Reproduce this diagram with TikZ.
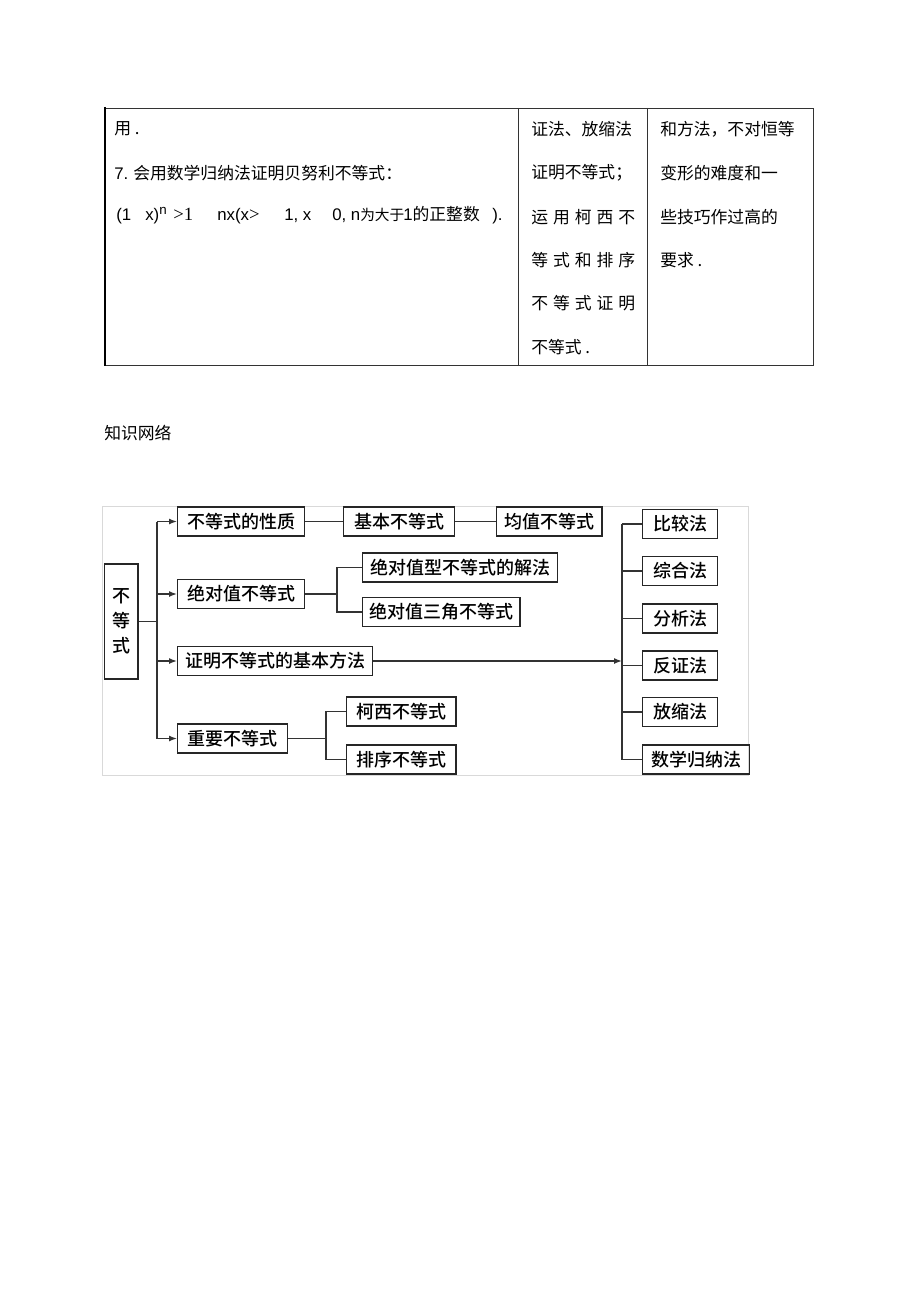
\documentclass[tikz,border=0pt]{standalone}
\usepackage{fontspec}
\setmainfont{Noto Sans CJK SC}
\newfontfamily\med{Noto Sans CJK SC Medium}
\newfontfamily\lat{Liberation Sans}
\newfontfamily\rom{Liberation Serif}
\usetikzlibrary{arrows.meta}

\tikzset{
  kbox/.style={draw=black!85, line width=1.1pt, anchor=west, minimum height=21.75pt,
    inner xsep=2pt, inner ysep=0pt, font=\fontsize{13.5}{14}\selectfont\med},
  link/.style={black!80, line width=1.1pt},
  tip/.style={-{Latex[length=6pt,width=4.5pt]}},
  tline/.style={black!80, line width=0.6pt},
  cell/.style={anchor=west, inner sep=0pt, font=\fontsize{12.6}{14}\selectfont},
  frm/.style={anchor=base west, inner sep=0pt, font=\fontsize{12.6}{14}\selectfont},
}

\begin{document}
\begin{tikzpicture}[x=0.75pt,y=-0.75pt]
\useasboundingbox (0,0) rectangle (920,1308);

% table
\draw[tline] (105,108) -- (813,108) -- (813,365) -- (105,365);
\draw[line width=2pt] (105,107) -- (105,366);
\draw[tline] (518,108) -- (518,365);
\draw[tline] (647,108) -- (647,365);

\node[cell] (use) at (114,129) {用\ .};
\node[cell] (item7) at (114,173) {{\lat 7.} 会用数学归纳法证明贝努利不等式：};
\node[frm] (fa) at (116,221) {\lat (1};
\node[frm] (fb) at (145,221) {\lat x)\raisebox{5pt}{\fontsize{10}{10}\selectfont n}};
\node[frm] (fc) at (173,221) {\fontsize{14}{14}\selectfont\rom >1};
\node[frm] (fd) at (217,221) {{\lat nx(x}{\fontsize{14}{14}\selectfont\rom >}};
\node[frm] (fe) at (284,221) {\lat 1, x};
\node[frm] (ff) at (332,221) {{\lat 0, n}{\fontsize{11}{14}\selectfont 为大于}};
\node[frm] (fg) at (403,221) {{\lat 1}的正整数};
\node[frm] (fh) at (492,221) {\lat ).};

\node[cell] (m1) at (531,129) {证法、放缩法};
\node[cell] (m2) at (531,173) {证明不等式；};
\node[cell] (m3) at (531,217) {\makebox[78pt][s]{运\hfill 用\hfill 柯\hfill 西\hfill 不}};
\node[cell] (m4) at (531,260) {\makebox[78pt][s]{等\hfill 式\hfill 和\hfill 排\hfill 序}};
\node[cell] (m5) at (531,303) {\makebox[78pt][s]{不\hfill 等\hfill 式\hfill 证\hfill 明}};
\node[cell] (m6) at (531,347) {不等式\ .};

\node[cell] (r1) at (660,129) {和方法，不对恒等};
\node[cell] (r2) at (660,173) {变形的难度和一};
\node[cell] (r3) at (660,217) {些技巧作过高的};
\node[cell] (r4) at (660,260) {要求\ .};

\node[cell] (net) at (104,433) {知识网络};

% knowledge network
\draw[gray!30, line width=0.5pt] (102,506) rectangle (748,775);

\node[kbox, minimum width=25pt, minimum height=86pt, align=center,
  font=\fontsize{13.5}{18.75}\selectfont\med] (ineq) at (104,621.5) {不\\等\\式};

\node[kbox, minimum width=95pt] (prop) at (177,521.5) {不等式的性质};
\node[kbox, minimum width=83pt] (basic) at (343,521.5) {基本不等式};
\node[kbox, minimum width=79pt] (mean) at (496,521.5) {均值不等式};
\node[kbox, minimum width=95pt] (absv) at (177,594) {绝对值不等式};
\node[kbox, minimum width=146pt] (abssol) at (362,567.5) {绝对值型不等式的解法};
\node[kbox, minimum width=118pt] (abstri) at (362,612) {绝对值三角不等式};
\node[kbox, minimum width=146pt] (proof) at (177,661) {证明不等式的基本方法};
\node[kbox, minimum width=82.5pt] (imp) at (177,738.5) {重要不等式};
\node[kbox, minimum width=82pt] (cauchy) at (346,711.5) {柯西不等式};
\node[kbox, minimum width=82pt] (order) at (346,759.5) {排序不等式};

\node[kbox, minimum width=56pt] (cmp) at (642,524) {比较法};
\node[kbox, minimum width=56pt] (syn) at (642,571) {综合法};
\node[kbox, minimum width=56pt] (ana) at (642,618.5) {分析法};
\node[kbox, minimum width=56pt] (contra) at (642,665.5) {反证法};
\node[kbox, minimum width=56pt] (scale) at (642,712) {放缩法};
\node[kbox, minimum width=80pt] (induct) at (642,759.5) {数学归纳法};

\coordinate (tk) at (157,621.5);
\coordinate (ab) at (337,594);
\coordinate (ib) at (326,738.5);
\coordinate (rt) at (622,661);

\draw[link] (ineq.east) -- (tk);
\draw[link] (tk |- prop.west) -- (tk |- imp.west);
\foreach \b in {prop,absv,proof,imp}
  \draw[link,tip] (tk |- \b.west) -- (\b.west);

\draw[link] (prop) -- (basic);
\draw[link] (basic) -- (mean);

\draw[link] (absv.east) -- (ab);
\draw[link] (abssol.west) -| (ab) |- (abstri.west);

\draw[link] (imp.east) -- (ib);
\draw[link] (cauchy.west) -| (ib) |- (order.west);

\draw[link,tip] (proof.east) -- (rt);
\draw[link] (rt |- cmp.west) -- (rt |- induct.west);
\foreach \b in {cmp,syn,ana,contra,scale,induct}
  \draw[link] (rt |- \b.west) -- (\b.west);

\end{tikzpicture}
\end{document}
